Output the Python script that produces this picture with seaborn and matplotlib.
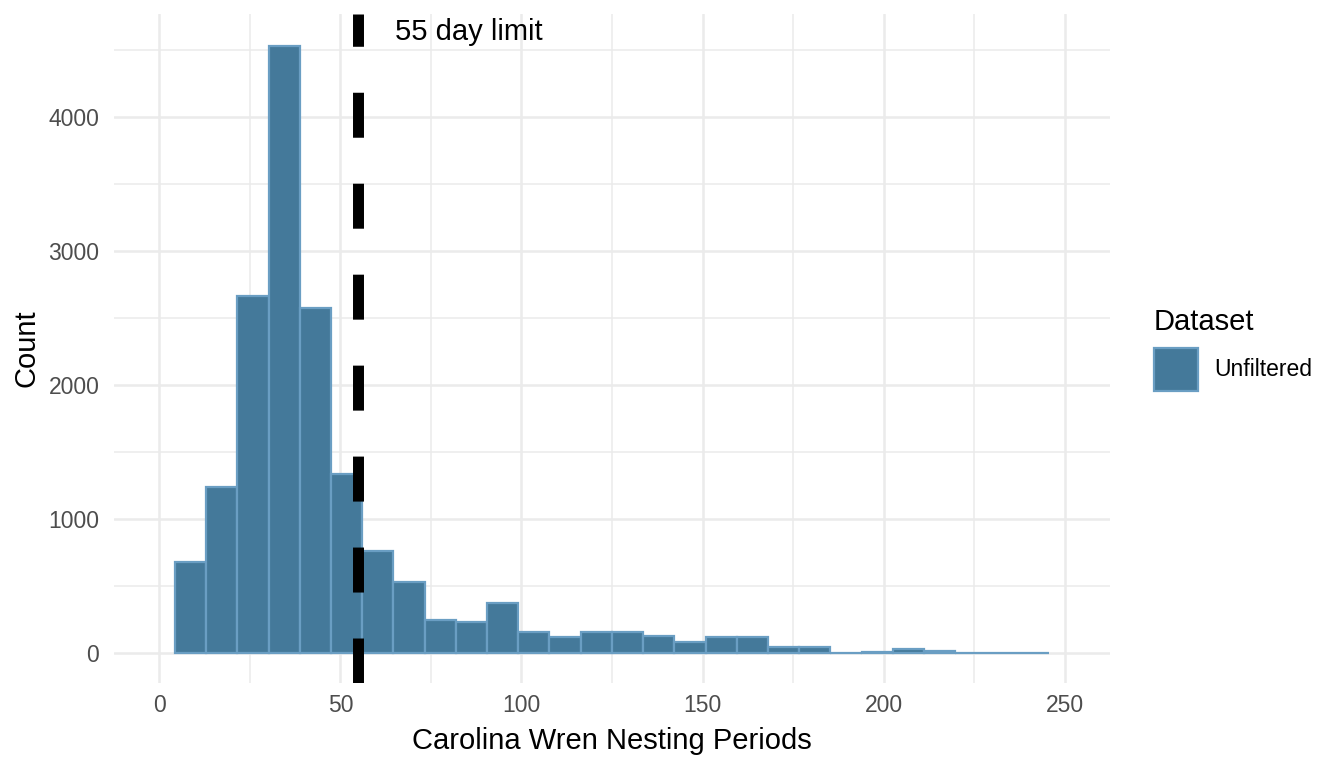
import numpy as np
import pandas as pd
import seaborn as sns
import matplotlib.pyplot as plt
from matplotlib.ticker import MultipleLocator

# histogram counts (28 bins)
counts = [683, 1240, 2665, 4533, 2577, 1340, 762, 532, 246, 236,
          378, 155, 118, 162, 160, 125, 85, 118, 118, 48,
          44, 3, 8, 28, 18, 3, 3, 3]
bin_start = 4.3
bin_width = 8.62
dataset = ["Unfiltered"] * len(counts)
limit_day = 55
limit_label = "55 day limit"

edges = bin_start + bin_width * np.arange(len(counts) + 1)
centers = edges[:-1] + bin_width / 2
df = pd.DataFrame({"period": centers, "count": counts, "Dataset": dataset})

# setting up the visual
sns.set_theme(style="white")
plt.rcParams["font.family"] = ["Liberation Sans", "DejaVu Sans"]
plt.rcParams["text.color"] = "black"

fig = plt.figure(figsize=(13.44, 7.68), dpi=100)
ax = fig.add_axes([114 / 1344, 85 / 768, 996 / 1344, 669 / 768])

fill = "#44799A"
edge = "#6A9EC3"

sns.histplot(data=df, x="period", weights="count", hue="Dataset",
             bins=edges.tolist(), palette={"Unfiltered": fill}, alpha=1,
             edgecolor=edge, linewidth=1.6, ax=ax, zorder=2)

ax.axvline(limit_day, color="black", linewidth=7.9, linestyle=(0, (4.1, 4.19)),
           zorder=3)
ax.text(65, 4635, limit_label, fontsize=21, ha="left", va="center",
        color="black")

ax.set_xlim(-12.5, 262.5)
ax.set_ylim(-222, 4768)
ax.set_xticks([0, 50, 100, 150, 200, 250])
ax.set_yticks([0, 1000, 2000, 3000, 4000])
ax.xaxis.set_minor_locator(MultipleLocator(25))
ax.yaxis.set_minor_locator(MultipleLocator(500))
ax.set_axisbelow(True)
ax.grid(which="major", color="#EBEBEB", linewidth=1.8)
ax.grid(which="minor", color="#EBEBEB", linewidth=1.1)
for s in ax.spines.values():
    s.set_visible(False)
ax.tick_params(which="both", length=0, labelsize=16.5, labelcolor="#4D4D4D")
ax.tick_params(axis="x", pad=7.6)
ax.tick_params(axis="y", pad=10.6)

ax.set_xlabel("Carolina Wren Nesting Periods", fontsize=21, color="black")
ax.set_ylabel("Count", fontsize=21, color="black")
ax.xaxis.set_label_coords(0.5, -0.066)
ax.yaxis.set_label_coords(-0.074, 0.5)

sns.move_legend(ax, "upper left", bbox_to_anchor=(1154 / 1344, 0.5985),
                bbox_transform=fig.transFigure, frameon=False, title="Dataset",
                fontsize=16.5, title_fontsize=21, alignment="left",
                handlelength=1.92, handleheight=2.5, handletextpad=0.7,
                labelspacing=0.5, borderpad=0, borderaxespad=0)

# saving the visual
plt.savefig("out.png", dpi=100)
